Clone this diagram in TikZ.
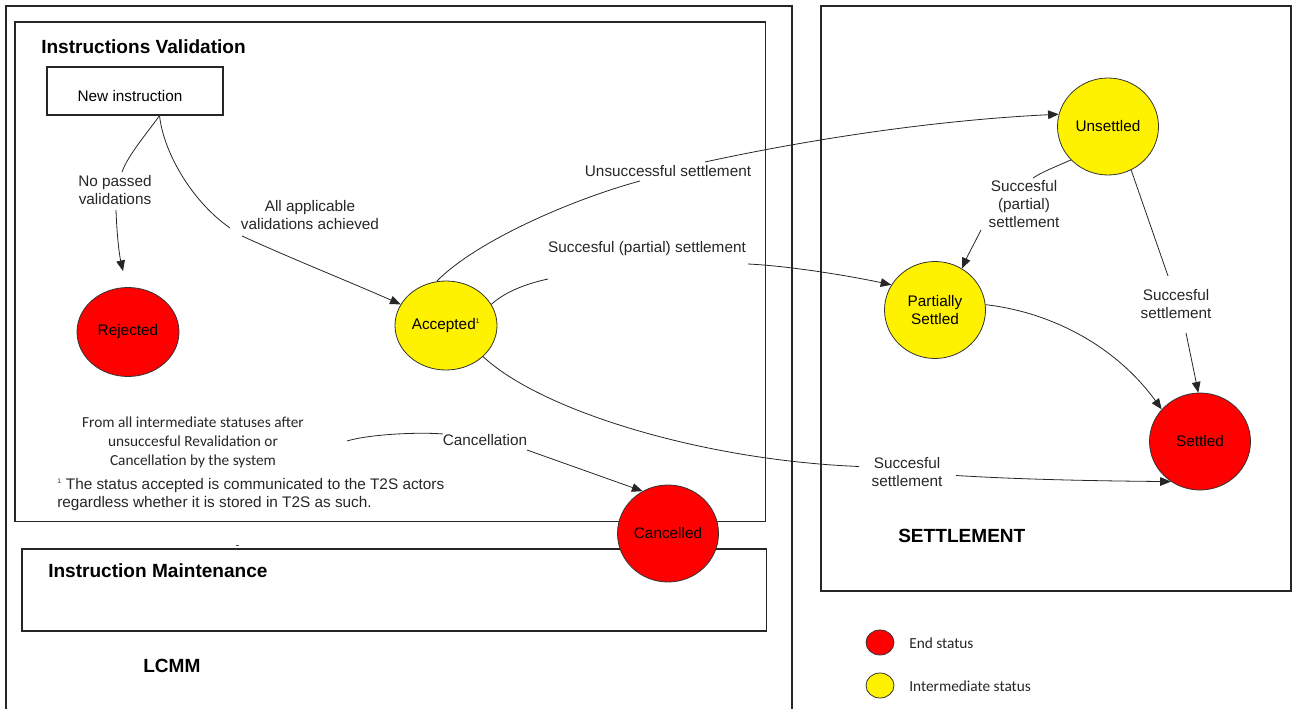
\documentclass[tikz,border=0pt]{standalone}
\usepackage{fontspec}
\setmainfont{Liberation Sans}
\newfontfamily\calib{Carlito}
\usetikzlibrary{shapes.geometric,arrows.meta}
\begin{document}
\begin{tikzpicture}[x=0.75pt,y=-0.75pt,
  box/.style={draw=black!85,line width=1pt},
  lbl/.style={font=\fontsize{11.5}{13.5}\selectfont,text=black!85,align=center,inner sep=0pt},
  cal/.style={font=\calib\fontsize{11.5}{14.25}\selectfont,text=black!85,align=center,inner sep=0pt},
  state/.style={ellipse,draw=black!80,line width=0.6pt,inner sep=0pt,font=\fontsize{11.5}{13.5}\selectfont,align=center},
  endst/.style={state,fill=red},
  midst/.style={state,fill=yellow},
  stbig/.style={minimum width=75.75pt,minimum height=72.75pt},
  stsmall/.style={minimum width=76.5pt,minimum height=66.75pt},
  legend/.style={minimum width=21pt,minimum height=18.75pt},
  conn/.style={draw=black!85,line width=0.6pt},
  arr/.style={conn,-{Triangle[length=8pt,width=6.5pt]}},
  title/.style={font=\fontsize{14.3}{16}\selectfont\bfseries,anchor=base west,inner sep=0pt},
]
\useasboundingbox (0,0) rectangle (1292,709);

% containers
\draw[box] (6,712) -- (6,6) -- (792,6) -- (792,712);
\draw[box] (15,22) rectangle (765.5,521.5);
\draw[box] (22,549) rectangle (766.5,631);
\draw[box] (821,6) rectangle (1291,591);
\draw[black!70,line width=0.6pt] (235.5,545) -- (238.5,545);

% titles
\node[title] (tIV) at (41,53.5) {Instructions Validation};
\node[title] (tIM) at (48,577) {Instruction Maintenance};
\node[title] (tL) at (143,672) {LCMM};
\node[title] (tS) at (898,542) {SETTLEMENT};

% new instruction box
\node[draw=black!85,line width=0.8pt,minimum width=132pt,minimum height=36pt,inner sep=0pt,
      text height=15.8pt,text depth=0pt,
      font=\fontsize{11.5}{13.5}\selectfont] (newi) at (135,91) {New instruction\hspace*{7.5pt}};

% states
\node[endst,stsmall] (rej) at (128,332) {Rejected};
\node[midst,stsmall] (acc) at (446,325.5) {Accepted\textsuperscript{\tiny 1}};
\node[midst,stbig] (uns) at (1108,126.5) {Unsettled};
\node[midst,stbig] (par) at (935,310) {Partially\\Settled};
\node[endst,stbig] (set) at (1200,441.5) {Settled};
\node[endst,stbig] (can) at (668,533.5) {Cancelled};

% legend
\node[endst,legend] (lgE) at (880,642.5) {};
\node[midst,legend] (lgI) at (880,685.5) {};
\node[cal,anchor=west] (lgEt) at (909,643) {End status};
\node[cal,anchor=west] (lgIt) at (909,686) {Intermediate status};

% labels
\node[lbl] (nopass) at (115,190) {No passed\\validations};
\node[lbl] (allapp) at (310,215) {All applicable\\validations achieved};
\node[lbl] (unsucc) at (668,171) {Unsuccessful settlement};
\node[lbl] (sps) at (647,249) {Succesful (partial) settlement};
\node[lbl] (sps2) at (1024,204) {Succesful\\(partial)\\settlement};
\node[lbl] (ss1) at (1176,304) {Succesful\\settlement};
\node[lbl] (ss2) at (907,472.5) {Succesful\\settlement};
\node[lbl] (cancl) at (485,440) {Cancellation};
\node[cal] (fromall) at (193,442) {From all intermediate statuses after\\unsuccesful Revalidation or\\Cancellation by the system};
\node[lbl,align=left,anchor=north west] (fn) at (57,478) {\textsuperscript{\tiny 1} The status accepted is communicated to the T2S actors\\regardless whether it is stored in T2S as such.};

% connectors
\draw[conn] (newi.-45) .. controls (148,132) and (128,155) .. ([shift={(7,-18)}]nopass.center);
\draw[arr] ([shift={(1,20)}]nopass.center) .. controls (117,240) and (120,258) .. ([shift={(-5,-16)}]rej.north);

\draw[conn] (newi.-45) .. controls (163,150) and (190,200) .. ([shift={(-80,13)}]allapp.center);
\draw[arr] ([shift={(-68,21)}]allapp.center) .. controls (290,258) and (350,282) .. (acc.155);

\draw[conn] (acc.102) .. controls (475,242) and (570,200) .. ([shift={(-28,10)}]unsucc.center);
\draw[arr] ([shift={(37,-9)}]unsucc.center) .. controls (760,150) and (900,122) .. (uns.166);

\draw[conn] (acc.25) .. controls (505,292) and (525,284) .. ([shift={(-99,30)}]sps.center);
\draw[arr] ([shift={(101,15)}]sps.center) .. controls (790,266) and (850,276) .. (par.150);

\draw[conn] (uns.222) .. controls (1055,167) and (1042,172) .. ([shift={(9,-26)}]sps2.center);
\draw[arr] ([shift={(-43,26)}]sps2.center) .. controls (975,242) and (968,255) .. (par.57);

\draw[conn] (uns.298) -- ([shift={(-8,-28)}]ss1.center);
\draw[arr] ([shift={(10,29)}]ss1.center) -- (set.92);

\draw[arr] (par.6) .. controls (1050,312) and (1115,345) .. (set.140);

\draw[conn] (acc.320) .. controls (540,410) and (700,460) .. ([shift={(-48,-6)}]ss2.center);
\draw[arr] ([shift={(49,3)}]ss2.center) .. controls (1030,480) and (1110,481) .. (set.234);

\coordinate (cstart) at (347,441);
\draw[conn] (cstart) .. controls (370,434) and (420,432) .. ([shift={(-42,-6)}]cancl.center);
\draw[arr] ([shift={(42,10)}]cancl.center) -- (can.121);
\end{tikzpicture}
\end{document}
